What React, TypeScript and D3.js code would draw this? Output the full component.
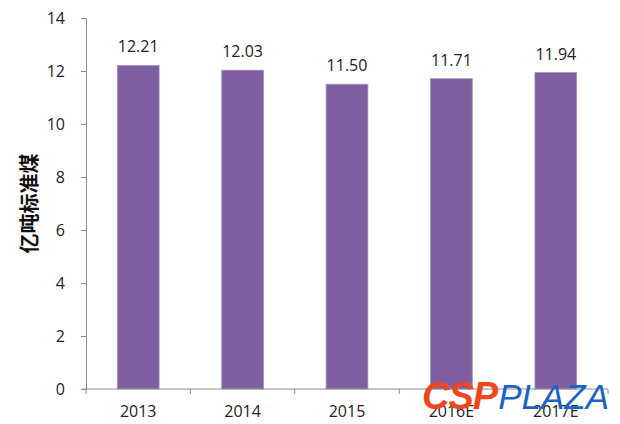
import { useEffect, useRef } from "react";
import * as d3 from "d3";

// ----- Data -------------------------------------------------------------
const years = ["2013", "2014", "2015", "2016E", "2017E"];
const consumption = [12.21, 12.03, 11.5, 11.71, 11.94];
const yTicks = [0, 2, 4, 6, 8, 10, 12, 14];
const yTitle = "亿吨标准煤";

const W = 620;
const H = 424;

const App = () => {
  const svgRef = useRef<SVGSVGElement | null>(null);

  useEffect(() => {
    const svg = d3.select(svgRef.current);
    svg.selectAll("*").remove();

    const margin = { top: 18, right: 12, bottom: 35, left: 86 };
    const innerW = W - margin.left - margin.right;
    const innerH = H - margin.top - margin.bottom;

    const g = svg.append("g").attr("transform", `translate(${margin.left},${margin.top})`);

    const x = d3.scaleBand<string>().domain(years).range([0, innerW]).paddingInner(0.6).paddingOuter(0.3);
    const y = d3.scaleLinear().domain([0, 14]).range([innerH, 0]);

    const font = "'Open Sans', sans-serif";
    const fs = 16;

    // y axis
    const yAxis = g
      .append("g")
      .call(d3.axisLeft(y).tickValues(yTicks).tickSize(5).tickPadding(16).tickSizeOuter(0));
    yAxis.select(".domain").attr("stroke", "#8c8c8c");
    yAxis.selectAll(".tick line").attr("stroke", "#8c8c8c");
    yAxis
      .selectAll(".tick text")
      .attr("fill", "#222")
      .attr("font-size", fs)
      .attr("font-family", font);

    // bars
    g.selectAll("rect.bar")
      .data(years)
      .join("rect")
      .attr("class", "bar")
      .attr("x", (d) => x(d) as number)
      .attr("width", x.bandwidth())
      .attr("y", (_, i) => y(consumption[i]))
      .attr("height", (_, i) => innerH - y(consumption[i]))
      .attr("fill", "#7e60a1")
      .attr("stroke", "#a48fc2")
      .attr("stroke-width", 0.8);

    // value labels
    g.selectAll("text.val")
      .data(years)
      .join("text")
      .attr("class", "val")
      .attr("x", (d) => (x(d) as number) + x.bandwidth() / 2)
      .attr("y", (_, i) => y(consumption[i]) - 13)
      .attr("text-anchor", "middle")
      .attr("font-size", fs)
      .attr("font-family", font)
      .attr("fill", "#222")
      .text((_, i) => consumption[i].toFixed(2));

    // x axis with ticks at category boundaries
    const xAxis = g.append("g").attr("transform", `translate(0,${innerH})`);
    xAxis
      .append("line")
      .attr("x1", -4)
      .attr("x2", innerW)
      .attr("stroke", "#8c8c8c");
    const step = x.step();
    const bounds = d3.range(years.length + 1).map((i) => i * step);
    xAxis
      .selectAll("line.tk")
      .data(bounds)
      .join("line")
      .attr("class", "tk")
      .attr("x1", (d) => d)
      .attr("x2", (d) => d)
      .attr("y1", 0)
      .attr("y2", 5)
      .attr("stroke", "#8c8c8c");
    xAxis
      .selectAll("text")
      .data(years)
      .join("text")
      .attr("x", (d) => (x(d) as number) + x.bandwidth() / 2)
      .attr("y", 28)
      .attr("text-anchor", "middle")
      .attr("font-size", fs)
      .attr("font-family", font)
      .attr("fill", "#222")
      .text((d) => d);

    // y title
    svg
      .append("text")
      .attr("transform", `translate(37,${margin.top + y(7)}) rotate(-90)`)
      .attr("text-anchor", "middle")
      .attr("font-size", 20)
      .attr("font-weight", "bold")
      .attr("font-family", "'Noto Sans CJK SC', sans-serif")
      .attr("fill", "#111")
      .text(yTitle);

    // watermark
    const wm = svg.append("text").attr("x", 422).attr("y", 409).attr("font-style", "italic");
    wm.append("tspan")
      .attr("font-family", "'Liberation Sans', Arial, sans-serif")
      .attr("font-weight", "bold")
      .attr("font-size", 38)
      .attr("fill", "#f0461e")
      .attr("letter-spacing", -1)
      .text("CSP");
    wm.append("tspan")
      .attr("font-family", "'Liberation Sans', Arial, sans-serif")
      .attr("font-weight", "normal")
      .attr("fill", "#1b62c4")
      .attr("dx", 1)
      .attr("font-size", 35)
      .text("PLAZA");
  }, []);

  return (
    <svg
      ref={svgRef}
      width={W}
      height={H}
      style={{ position: "absolute", left: 0, top: 0, background: "#fff" }}
    />
  );
};

export default App;
